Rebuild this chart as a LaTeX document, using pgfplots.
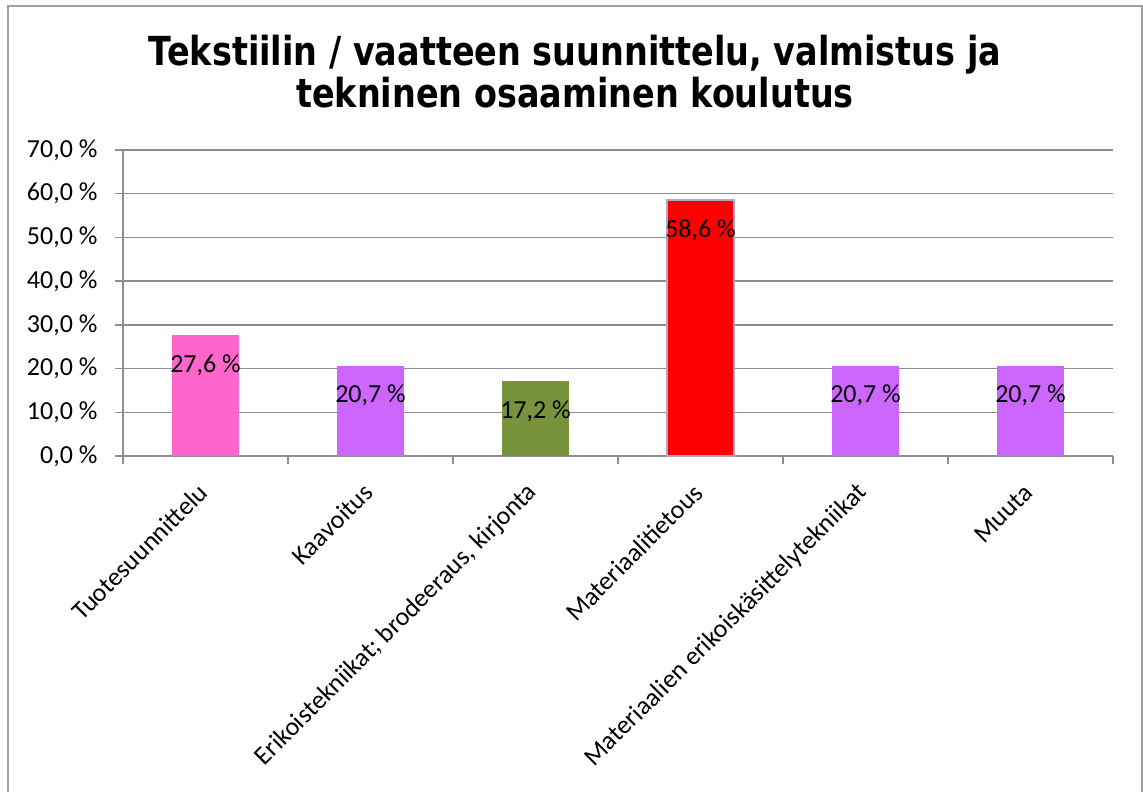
\documentclass[border=0pt]{standalone}
\usepackage{pgfplots}
\pgfplotsset{compat=1.18}
\usepackage{fontspec}
\setmainfont{Carlito}
\newfontfamily\titlefont{DejaVu Sans}
\definecolor{cpink}{HTML}{FF66CC}
\definecolor{cviolet}{HTML}{CC66FF}
\definecolor{cgreen}{HTML}{77933C}
\definecolor{cred}{HTML}{FF0000}
\definecolor{credborder}{HTML}{B4A4C8}
\definecolor{cgrid}{HTML}{8E8E8E}
\definecolor{cframe}{HTML}{A0A0A0}
\begin{document}
\begin{tikzpicture}[x=1pt,y=1pt]
\begin{axis}[
  scale only axis, width=990pt, height=306pt,
  xmin=-0.5, xmax=5.5, ymin=0, ymax=70,
  ybar, bar width=67pt, bar shift=0pt,
  ytick={0,10,...,70},
  xtick={0,...,5},
  xticklabels={Tuotesuunnittelu, Kaavoitus, {Erikoistekniikat; brodeeraus, kirjonta}, Materiaalitietous, Materiaalien erikoiskäsittelytekniikat, Muuta},
  minor xtick={-0.5,0.5,...,5.5},
  major x tick style={draw=none},
  minor x tick style={draw=cgrid, line width=1.5pt},
  y tick style={draw=cgrid, line width=1.5pt},
  major tick length=8pt, minor tick length=8pt,
  tick align=outside,
  xtick pos=bottom, ytick pos=left,
  axis x line*=bottom, axis y line*=left,
  axis line style={-, draw=cgrid, line width=1.5pt},
  ymajorgrids, grid style={draw=cgrid, line width=1.5pt},
  yticklabel={\pgfmathprintnumber[fixed,fixed zerofill,precision=1,use comma,assume math mode=true]{\tick}~\%},
  yticklabel style={font=\fontsize{26}{30}\selectfont},
  yticklabel shift=14pt,
  xticklabel style={rotate=45, anchor=east, font=\fontsize{26}{30}\selectfont},
  xticklabel shift=22pt,
  nodes near coords={\pgfmathprintnumber[fixed,fixed zerofill,precision=1,use comma,assume math mode=true]{\pgfplotspointmeta}~\%},
  every node near coord/.append style={anchor=center, yshift=-30pt, font=\fontsize{26}{30}\selectfont, text=black},
]
\addplot[fill=cpink, draw=none] coordinates {(0,27.6)};
\addplot[fill=cviolet, draw=none] coordinates {(1,20.7)};
\addplot[fill=cgreen, draw=none] coordinates {(2,17.2)};
\addplot[fill=cred, draw=credborder, line width=1.5pt] coordinates {(3,58.6)};
\addplot[fill=cviolet, draw=none] coordinates {(4,20.7)};
\addplot[fill=cviolet, draw=none] coordinates {(5,20.7)};
\coordinate (O) at (rel axis cs:0,0);
\end{axis}
\pgfresetboundingbox
\begin{scope}[shift={(O)}]
\useasboundingbox (-123,-336) rectangle (1020,456);
\draw[color=cframe, line width=1.8pt] (-115,-340) -- (-115,450) -- (1019,450) -- (1019,-340);
\node[font=\titlefont\bfseries\fontsize{40}{48}\selectfont, anchor=base] at (452,390) {\scalebox{0.836}[1]{Tekstiilin / vaatteen suunnittelu, valmistus ja}};
\node[font=\titlefont\bfseries\fontsize{40}{48}\selectfont, anchor=base] at (452,348) {\scalebox{0.836}[1]{tekninen osaaminen koulutus}};
\end{scope}
\end{tikzpicture}
\end{document}
